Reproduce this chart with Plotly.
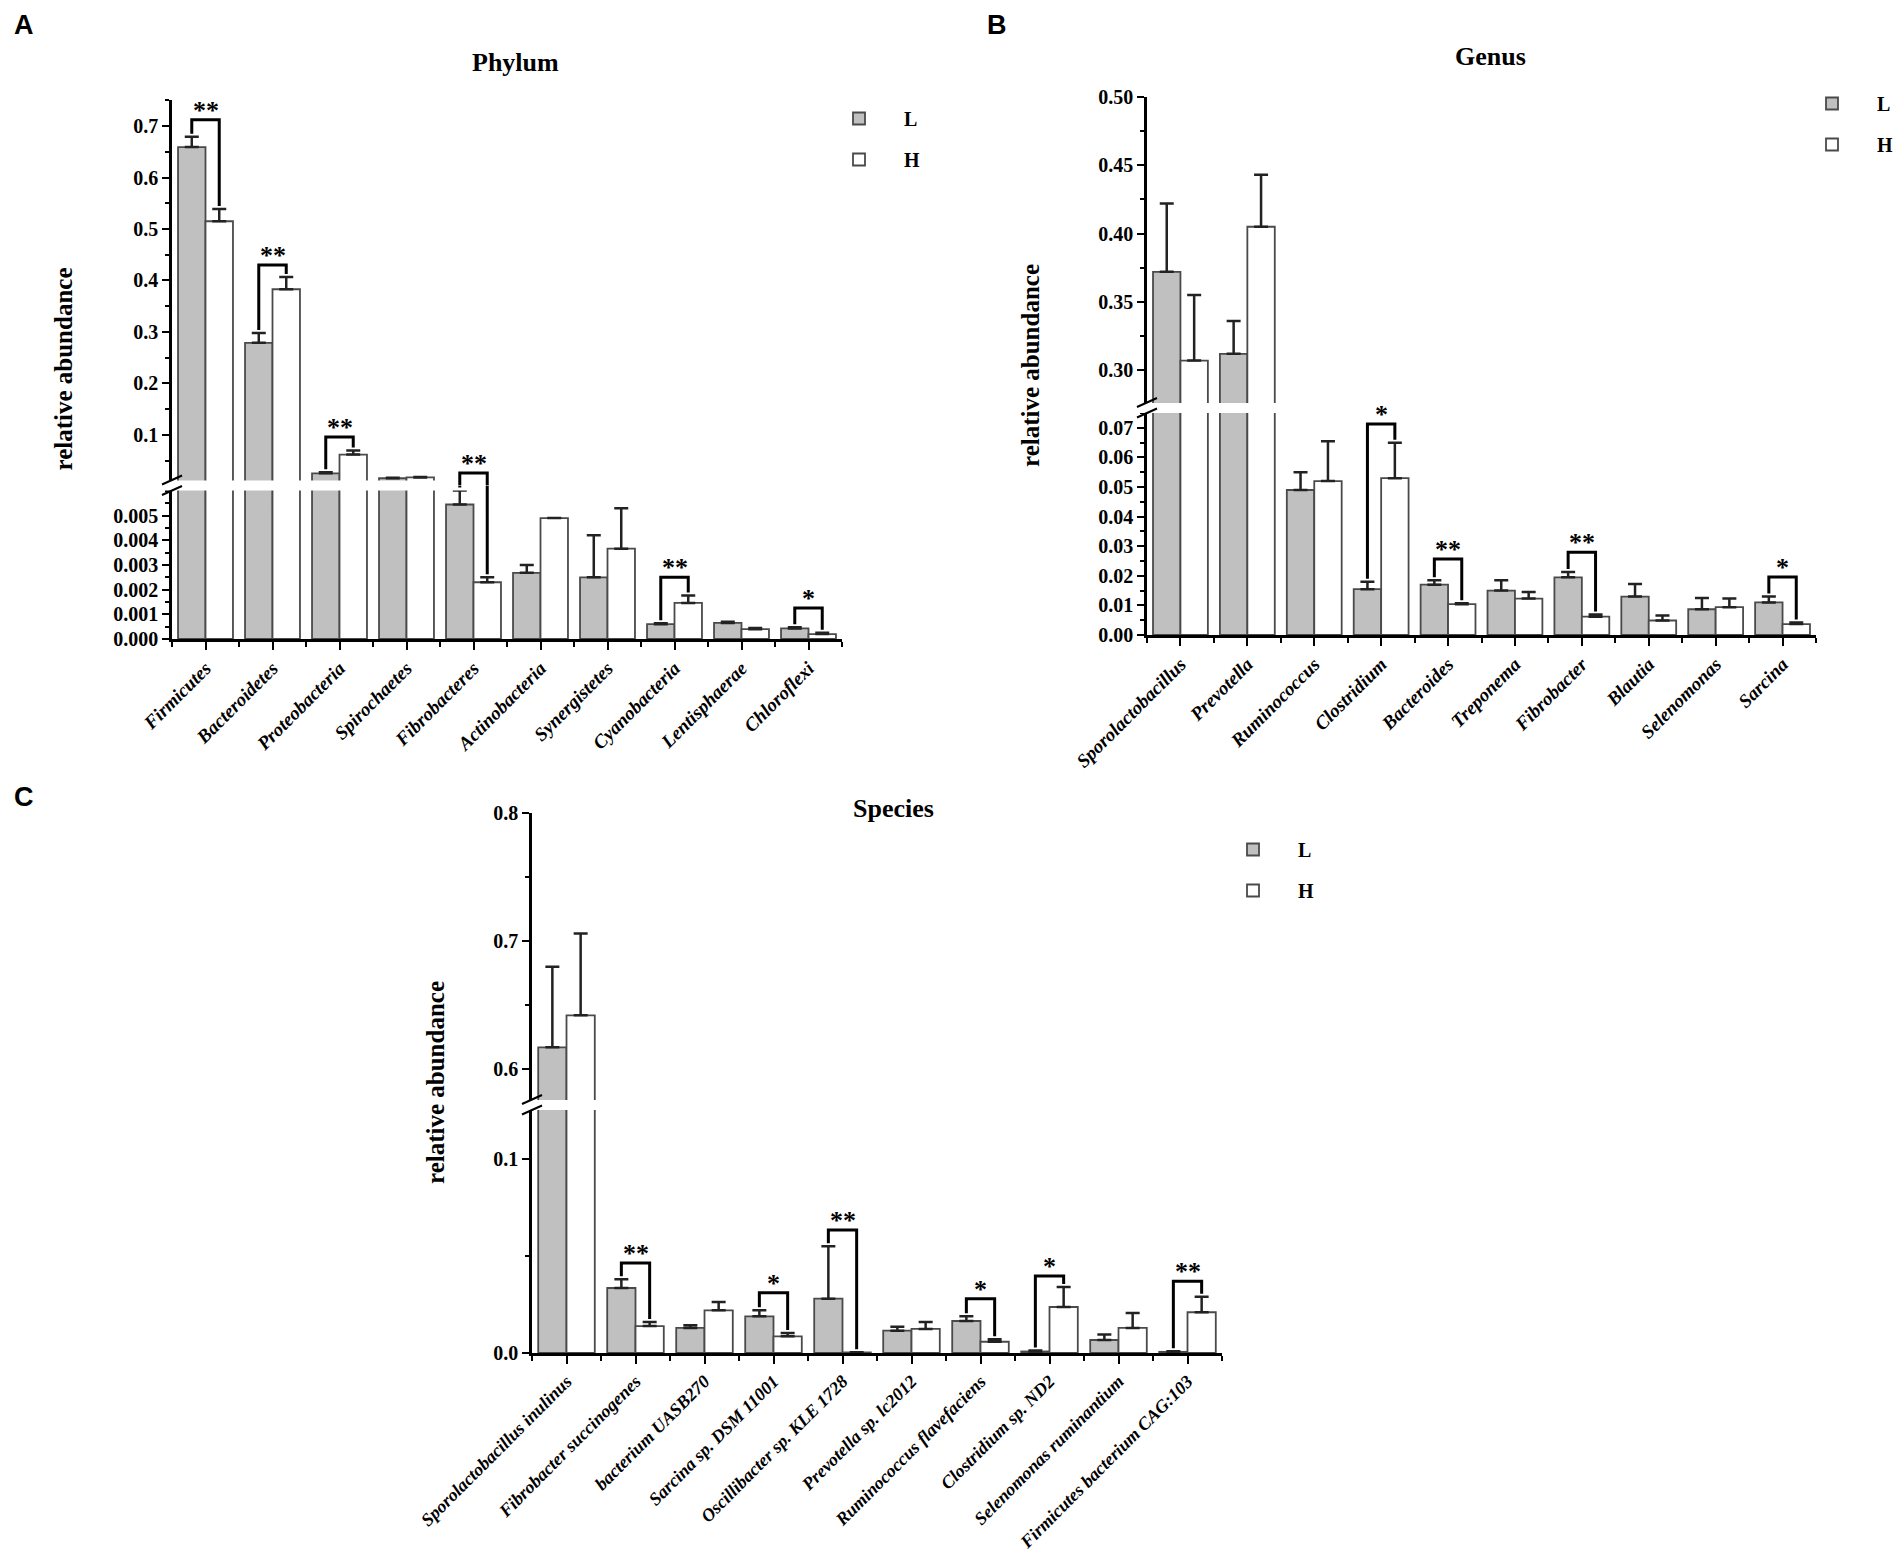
import plotly.graph_objects as go

W, H = 1901, 1558

# ---- data ----
phylum = ["Firmicutes", "Bacteroidetes", "Proteobacteria", "Spirochaetes", "Fibrobacteres",
          "Actinobacteria", "Synergistetes", "Cyanobacteria", "Lentisphaerae", "Chloroflexi"]
phylum_L = [0.659, 0.279, 0.0256, 0.016, 0.00545, 0.00268, 0.0025, 0.0006, 0.00065, 0.00043]
phylum_L_err = [0.020, 0.019, 0.0022, 0.001, 0.00057, 0.00032, 0.0017, 0.00004, 0.00005, 0.00005]
phylum_H = [0.515, 0.383, 0.062, 0.0175, 0.0023, 0.0049, 0.00366, 0.00146, 0.0004, 0.0002]
phylum_H_err = [0.024, 0.024, 0.008, 0.001, 0.0002, 0.0, 0.00164, 0.0003, 0.00005, 0.00005]
phylum_sig = [(0, "**", 0.712), (1, "**", 0.430), (2, "**", 0.096), (4, "**", 0.026),
              (7, "**", 0.0025), (9, "*", 0.00126)]

genus = ["Sporolactobacillus", "Prevotella", "Ruminococcus", "Clostridium", "Bacteroides",
         "Treponema", "Fibrobacter", "Blautia", "Selenomonas", "Sarcina"]
genus_L = [0.372, 0.312, 0.049, 0.0155, 0.017, 0.015, 0.0195, 0.013, 0.0087, 0.011]
genus_L_err = [0.050, 0.024, 0.006, 0.0025, 0.0015, 0.0035, 0.0018, 0.0042, 0.0038, 0.002]
genus_H = [0.307, 0.405, 0.052, 0.053, 0.0104, 0.0123, 0.0062, 0.0049, 0.0094, 0.0037]
genus_H_err = [0.048, 0.038, 0.0135, 0.012, 0.0003, 0.0022, 0.0007, 0.0017, 0.0029, 0.0005]
genus_sig = [(3, "*", 0.0713), (4, "**", 0.0257), (6, "**", 0.028), (9, "*", 0.0196)]

species = ["Sporolactobacillus inulinus", "Fibrobacter succinogenes", "bacterium UASB270",
           "Sarcina sp. DSM 11001", "Oscillibacter sp. KLE 1728", "Prevotella sp. lc2012",
           "Ruminococcus flavefaciens", "Clostridium sp. ND2", "Selenomonas ruminantium",
           "Firmicutes bacterium CAG:103"]
species_L = [0.617, 0.0335, 0.0129, 0.0189, 0.028, 0.0115, 0.0165, 0.0008, 0.0067, 0.0006]
species_L_err = [0.063, 0.0045, 0.0014, 0.0031, 0.027, 0.002, 0.0025, 0.0005, 0.0028, 0.0003]
species_H = [0.642, 0.0139, 0.022, 0.0086, 0.0003, 0.0124, 0.0058, 0.0237, 0.0129, 0.021]
species_H_err = [0.064, 0.0021, 0.0043, 0.0017, 0.0001, 0.0036, 0.0013, 0.0103, 0.0077, 0.008]
species_sig = [(1, "**", 0.0464), (3, "*", 0.031), (4, "**", 0.0634), (6, "*", 0.028),
               (7, "*", 0.0397), (9, "**", 0.037)]

phylum_low_ticks = [0.0, 0.001, 0.002, 0.003, 0.004, 0.005]

SERIF = "Liberation Serif"
SANS = "Liberation Sans"
L_FILL = "#c0c0c0"
H_FILL = "#ffffff"
EDGE = "#4a4a4a"
BAR_W = 0.41
PAGE_OFF = 8  # the page body margin shifts the figure by this many pixels


def fx(p):
    return (p - PAGE_OFF) / W


def fy(p):
    return 1 - (p - PAGE_OFF) / H


# page-pixel geometry of each broken axis
panels = [
    dict(letter="A", letter_xy=(24, 25), title="Phylum", title_xy=(516, 63), ytitle_x=63,
         cats=phylum, L=phylum_L, Le=phylum_L_err, H=phylum_H, He=phylum_H_err, sig=phylum_sig,
         x0=172, x1=842, y_zero=639, y_brk=485.5, y_top=100,
         low=(0, 0.00622), up=(0.0019, 0.7505),
         low_ticks=dict(tickvals=phylum_low_ticks, tickformat=".3f", minor=0.0005),
         up_ticks=dict(dtick=0.1, tickformat=".1f", minor=0.05),
         xfont=19, legend_xy=(814, 99)),
    dict(letter="B", letter_xy=(997, 25), title="Genus", title_xy=(1490, 57), ytitle_x=1030,
         cats=genus, L=genus_L, Le=genus_L_err, H=genus_H, He=genus_H_err, sig=genus_sig,
         x0=1147, x1=1816, y_zero=635, y_brk=408, y_top=97,
         low=(0, 0.0767), up=(0.2723, 0.50),
         low_ticks=dict(dtick=0.01, tickformat=".2f", minor=0.005),
         up_ticks=dict(dtick=0.05, tickformat=".2f", minor=0.025),
         xfont=19, legend_xy=(1787, 84)),
    dict(letter="C", letter_xy=(24, 797), title="Species", title_xy=(893, 808), ytitle_x=435,
         cats=species, L=species_L, Le=species_L_err, H=species_H, He=species_H_err, sig=species_sig,
         x0=532, x1=1222, y_zero=1353, y_brk=1105, y_top=813,
         low=(0, 0.1278), up=(0.572, 0.80),
         low_ticks=dict(dtick=0.1, tickformat=".1f", minor=0.05),
         up_ticks=dict(dtick=0.1, tickformat=".1f", minor=0.05),
         xfont=18, legend_xy=(1208, 830)),
]

fig = go.Figure()
shapes = []
annotations = []
axis_font = dict(family=SERIF, size=20, color="black", weight="bold")

for i, p in enumerate(panels):
    xname = "x" if i == 0 else f"x{i + 1}"
    ylow = "y" if i == 0 else f"y{2 * i + 1}"
    yup = f"y{2 * i + 2}"
    legend_name = "legend" if i == 0 else f"legend{i + 1}"
    n = len(p["cats"])
    xs = list(range(n))

    for yname, is_low in ((ylow, True), (yup, False)):
        for name, vals, errs, fill, off in (("L", p["L"], p["Le"], L_FILL, -BAR_W),
                                             ("H", p["H"], p["He"], H_FILL, 0.0)):
            fig.add_trace(go.Bar(
                x=xs, y=vals, width=BAR_W, offset=off,
                xaxis=xname, yaxis=yname,
                name=name, legend=legend_name, legendgroup=f"{i}{name}",
                showlegend=is_low,
                marker=dict(color=fill, line=dict(color=EDGE, width=1.8)),
                error_y=dict(type="data", symmetric=False, array=errs, arrayminus=[0] * n,
                             color="#222222", thickness=2.5, width=7),
                hoverinfo="skip",
            ))

    # axes
    xkey = "xaxis" if i == 0 else f"xaxis{i + 1}"
    ylkey = "yaxis" if i == 0 else f"yaxis{2 * i + 1}"
    yukey = f"yaxis{2 * i + 2}"
    fig.layout[xkey] = dict(
        domain=[fx(p["x0"]), fx(p["x1"])], range=[-0.5, n - 0.5], anchor=ylow,
        tickmode="array", tickvals=xs, ticktext=p["cats"], tickangle=-45,
        tickfont=dict(family=SERIF, size=p["xfont"], color="black", weight="bold", style="italic"),
        showline=True, linewidth=2.5, linecolor="black", ticks="outside", ticklen=8,
        tickwidth=2, tickcolor="black",
        minor=dict(tick0=-0.5, dtick=1, ticks="outside", ticklen=5, tickwidth=2, tickcolor="black"),
        showgrid=False, zeroline=False, fixedrange=True,
    )
    for key, yname, dom, rng, tk in (
            (ylkey, ylow, [fy(p["y_zero"]), fy(p["y_brk"])], p["low"], p["low_ticks"]),
            (yukey, yup, [fy(p["y_brk"]), fy(p["y_top"])], p["up"], p["up_ticks"])):
        ax = dict(domain=dom, range=list(rng), anchor=xname,
                  showline=True, linewidth=2.5, linecolor="black",
                  ticks="outside", ticklen=7, tickwidth=2, tickcolor="black",
                  tickfont=axis_font, tickformat=tk["tickformat"],
                  minor=dict(dtick=tk["minor"], tick0=0, ticks="outside", ticklen=4,
                             tickwidth=1.5, tickcolor="black"),
                  showgrid=False, zeroline=False, fixedrange=True)
        if "tickvals" in tk:
            ax.update(tickmode="array", tickvals=tk["tickvals"])
        else:
            ax.update(tick0=0, dtick=tk["dtick"])
        fig.layout[key] = ax

    # white band and break marks across the axis break
    shapes.append(dict(type="rect", xref="paper", yref="paper", layer="above",
                       x0=fx(p["x0"] - 16), x1=fx(p["x1"] + 2),
                       y0=fy(p["y_brk"] + 5), y1=fy(p["y_brk"] - 5),
                       fillcolor="white", line=dict(width=0)))
    for d in (-5.5, 5.0):
        shapes.append(dict(type="line", xref="paper", yref="paper", layer="above",
                           x0=fx(p["x0"] - 10), y0=fy(p["y_brk"] + d + 4.5),
                           x1=fx(p["x0"] + 10), y1=fy(p["y_brk"] + d - 4.5),
                           line=dict(color="black", width=2)))

    # significance brackets
    low_lo, low_hi = p["low"]
    up_lo, up_hi = p["up"]
    low_px = p["y_zero"] - p["y_brk"]
    up_px = p["y_brk"] - p["y_top"]

    def seg(v):
        return "low" if v <= low_hi else "up"

    def gap(v, px=3):
        if seg(v) == "low":
            return px * (low_hi - low_lo) / low_px
        return px * (up_hi - up_lo) / up_px

    for idx, label, top in p["sig"]:
        xl, xr = idx - BAR_W / 2, idx + BAR_W / 2
        sl = p["L"][idx] + p["Le"][idx]
        sl += gap(sl)
        sr = p["H"][idx] + p["He"][idx]
        sr += gap(sr)
        tseg = seg(top)
        tref = ylow if tseg == "low" else yup
        pl = sl if seg(sl) == tseg else up_lo
        pr = sr if seg(sr) == tseg else up_lo
        shapes.append(dict(type="path", xref=xname, yref=tref, layer="above",
                           path=f"M {xl},{pl} L {xl},{top} L {xr},{top} L {xr},{pr}",
                           line=dict(color="black", width=3)))
        for xv, sv in ((xl, sl), (xr, sr)):
            if seg(sv) != tseg:
                shapes.append(dict(type="line", xref=xname, yref=ylow, layer="above",
                                   x0=xv, x1=xv, y0=sv, y1=low_hi,
                                   line=dict(color="black", width=3)))
        annotations.append(dict(x=idx, y=top, xref=xname, yref=tref, text=label,
                                showarrow=False, xanchor="center", yanchor="bottom", yshift=-7,
                                font=dict(family=SERIF, size=26, color="black", weight="bold")))

    # texts
    annotations.append(dict(x=fx(p["letter_xy"][0]), y=fy(p["letter_xy"][1]), xref="paper",
                            yref="paper", text=p["letter"], showarrow=False,
                            xanchor="center", yanchor="middle",
                            font=dict(family=SANS, size=27, color="black", weight="bold")))
    annotations.append(dict(x=fx(p["title_xy"][0]), y=fy(p["title_xy"][1]), xref="paper",
                            yref="paper", text=p["title"], showarrow=False,
                            xanchor="center", yanchor="middle",
                            font=dict(family=SERIF, size=26, color="black", weight="bold")))
    annotations.append(dict(x=fx(p["ytitle_x"]), y=fy((p["y_top"] + p["y_zero"]) / 2),
                            xref="paper", yref="paper", text="relative abundance",
                            textangle=-90, showarrow=False, xanchor="center", yanchor="middle",
                            font=dict(family=SERIF, size=25, color="black", weight="bold")))

    fig.layout[legend_name] = dict(
        x=fx(p["legend_xy"][0]), y=fy(p["legend_xy"][1]), xanchor="left", yanchor="top",
        bgcolor="rgba(0,0,0,0)", itemwidth=80, tracegroupgap=12,
        font=dict(family=SERIF, size=20, color="black", weight="bold"),
    )

fig.update_layout(
    width=W, height=H, autosize=False,
    margin=dict(l=0, r=0, t=0, b=0, autoexpand=False),
    paper_bgcolor="white", plot_bgcolor="white",
    barmode="overlay", shapes=shapes, annotations=annotations,
    hovermode=False,
)

fig.write_html("out.html")
